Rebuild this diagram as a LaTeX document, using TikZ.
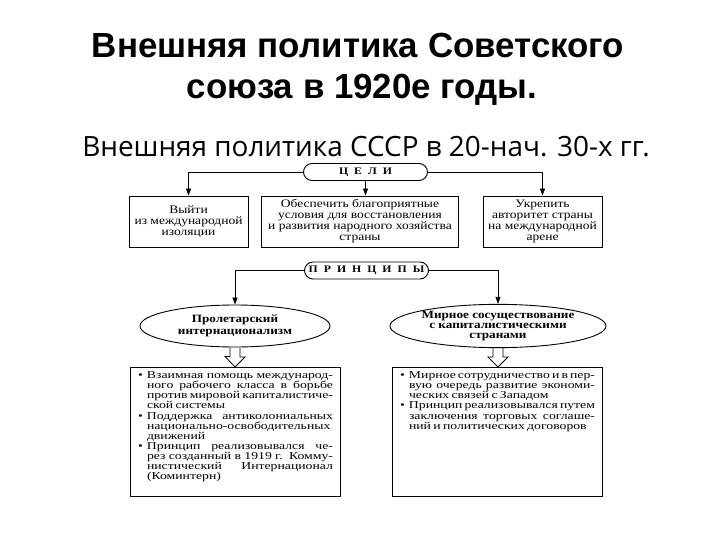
\documentclass[tikz,border=0pt]{standalone}
\usepackage{fontspec}
\setmainfont{Liberation Serif}[FakeStretch=1.18]
\newfontfamily\listfont{Liberation Serif}[FakeStretch=1.3]
\newfontfamily\headfont{Liberation Sans}
\newfontfamily\subfont{Open Sans}
\usetikzlibrary{arrows.meta,shapes.geometric}

\tikzset{
  goalbox/.style={draw,line width=0.9bp,align=center,inner sep=0pt,
    minimum height=51bp,font=\fontsize{11.5}{11}\selectfont},
  pill/.style={draw,line width=0.9bp,rounded corners=8.5bp,minimum height=17bp,
    minimum width=124bp,inner sep=0pt,font=\bfseries\fontsize{10}{10}\selectfont},
  principle/.style={draw,ellipse,line width=0.9bp,minimum width=190bp,minimum height=42bp,
    inner sep=0pt,align=center,font=\bfseries\fontsize{11.2}{10.5}\selectfont},
  listbox/.style={draw,line width=0.9bp,inner xsep=7bp,inner ysep=4bp,
    font=\listfont\fontsize{10.6}{10.2}\selectfont},
  arr/.style={-{Triangle[length=7bp,width=5bp]},line width=0.8bp},
  hollow/.style={line width=0.8bp,line join=miter}
}

\newcommand{\itm}{\par\noindent\llap{\textbullet\hspace{4bp}}}
\newcommand{\tracked}[1]{{\spaceskip=6bp\relax #1}}

\begin{document}
\begin{tikzpicture}[x=1bp,y=-1bp]
  \useasboundingbox (0,0) rectangle (720,540);

  \node[anchor=base,font=\headfont\bfseries\fontsize{35}{35}\selectfont] (title1) at (358,58) {Внешняя политика Советского};
  \node[anchor=base,font=\headfont\bfseries\fontsize{35}{35}\selectfont] (title2) at (362,99) {союза в 1920е годы.};
  \node[anchor=base,font=\subfont\fontsize{28}{28}\selectfont] (sub) at (366,157) {Внешняя политика СССР в 20-нач. 30-х гг.};

  \node[pill] (goals) at (365.5,172) {\tracked{Ц Е Л И}};
  \node[goalbox,minimum width=119bp] (exit) at (188.5,221.5) {Выйти\\из международной\\изоляции};
  \node[goalbox,minimum width=197bp] (restore) at (360,221.5) {Обеспечить благоприятные\\условия для восстановления\\и развития народного хозяйства\\страны};
  \node[goalbox,minimum width=119bp] (prestige) at (542.5,221.5) {Укрепить\\авторитет страны\\на международной\\арене};

  \draw[arr] (goals.west) -| (exit.north);
  \draw[arr] (goals.south) -- (goals.south |- restore.north);
  \draw[arr] (goals.east) -| (prestige.north);

  \node[pill] (princ) at (366.5,270.5) {\tracked{П Р И Н Ц И П Ы}};
  \node[principle] (prolet) at (235,326) {Пролетарский\\[1.5bp]интернационализм};
  \node[principle] (peace) at (498,326) {Мирное сосуществование\\с капиталистическими\\странами};

  \draw[arr] (princ.west) -| (prolet.north);
  \draw[arr] (princ.east) -| (peace.north);

  \node[listbox,anchor=north] (leftlist) at (235,367) {\parbox[t][121bp][t]{196bp}{\leftskip=10bp\spaceskip=0.22em plus 2em minus 0.1em\relax
    \itm Взаимная помощь международ-\linebreak ного рабочего класса в борьбе\linebreak против мировой капиталистиче-\linebreak ской системы
    \itm Поддержка антиколониальных\linebreak национально-освободительных\linebreak движений
    \itm Принцип реализовывался че-\linebreak рез созданный в 1919 г. Комму-\linebreak нистический Интернационал\linebreak (Коминтерн)\par}};
  \node[listbox,anchor=north] (rightlist) at (497,367) {\parbox[t][121bp][t]{196bp}{\leftskip=10bp\spaceskip=0.22em plus 2em minus 0.1em\relax
    \itm Мирное сотрудничество и в пер-\linebreak вую очередь развитие экономи-\linebreak ческих связей с Западом
    \itm Принцип реализовывался путем\linebreak заключения торговых соглаше-\linebreak ний и политических договоров\par}};

  \foreach \e/\b in {prolet/leftlist,peace/rightlist}
    \draw[hollow] (\e.south) ++(-5,0) -- ++(0,9) -- ++(-5,0) -- (\e.south |- \b.north)
      -- ++(10,-10) -- ++(-5,0) -- ++(0,-9);
\end{tikzpicture}
\end{document}
